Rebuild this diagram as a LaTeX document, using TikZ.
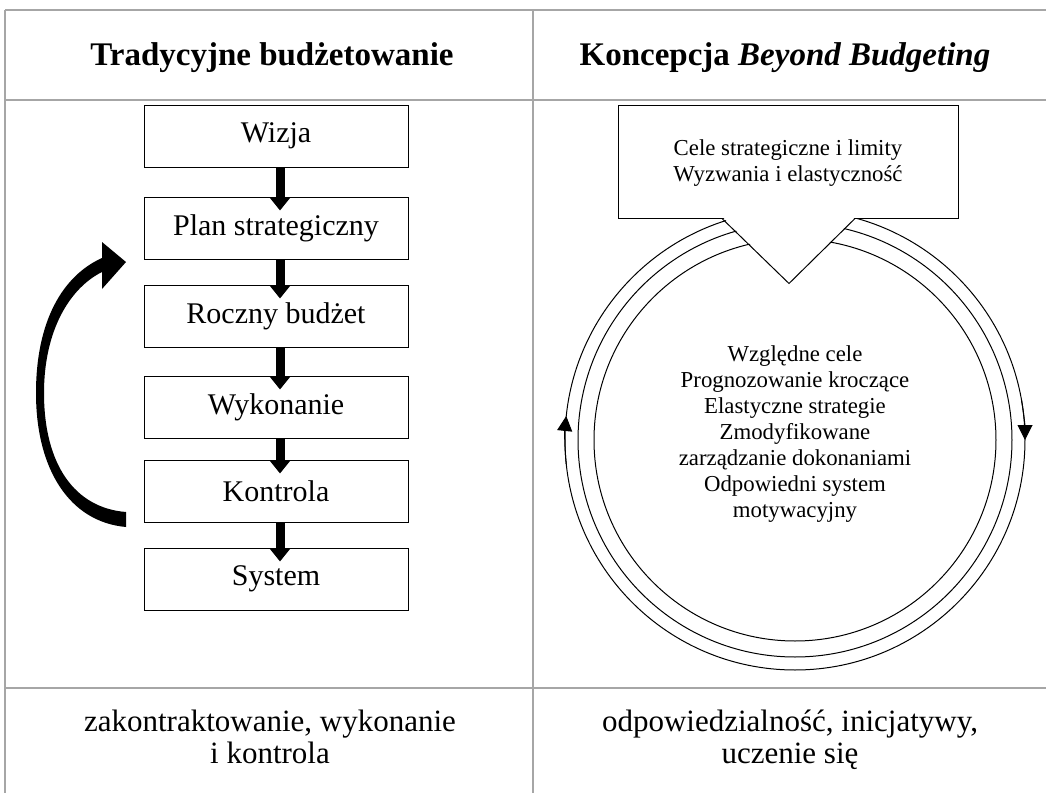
\documentclass[tikz,border=0pt]{standalone}
\usepackage{fontspec}
\setmainfont{Liberation Serif}
\usetikzlibrary{arrows.meta,calc}

\begin{document}
\begin{tikzpicture}[x=0.5pt, y=-0.5pt,
    grid/.style={draw=black!35, line width=1.2pt},
    block/.style={rectangle, draw, line width=0.5pt, fill=white, minimum height=31pt, minimum width=132pt, inner sep=1pt, align=center, font=\fontsize{15}{18}\selectfont},
    goalbox/.style={rectangle, draw, line width=0.5pt, fill=white, minimum height=56.5pt, minimum width=170pt, inner sep=1pt, align=center, font=\fontsize{11.4}{13}\selectfont},
    down/.style={-{Triangle[length=6.5pt, width=10pt]}, line width=4.5pt},
    head/.style={font=\fontsize{16.5}{20}\selectfont\bfseries},
    note/.style={align=center, font=\fontsize{15.5}{16}\selectfont},
    ring/.style={line width=0.5pt},
    ringarrow/.style={line width=0.5pt, -{Triangle[length=7.5pt, width=7.5pt]}}
]
\useasboundingbox (0,0) rectangle (1046,793);
\draw[grid] (5,10) -- (1046,10);
\draw[grid] (5,100) -- (1046,100);
\draw[grid] (5,688) -- (1046,688);
\draw[grid] (5,10) -- (5,793);
\draw[grid] (533,10) -- (533,793);

\node[head] (h1) at (272,55) {\vphantom{Ż}Tradycyjne budżetowanie};
\node[head] (h2) at (785,55) {\vphantom{Ż}Koncepcja \textit{Beyond Budgeting}};

\node[block] (wiz)  at (276,136) {Wizja};
\node[block] (plan) at (276,228) {Plan strategiczny};
\node[block] (rocz) at (276,316) {Roczny budżet};
\node[block] (wyk)  at (276,407) {Wykonanie};
\node[block] (kon)  at (276,491) {Kontrola};
\node[block] (sys)  at (276,579) {System};
\foreach \a/\b in {wiz/plan,plan/rocz,rocz/wyk,wyk/kon,kon/sys}{\draw[down] ([xshift=2pt]\a.south) -- ([xshift=2pt,yshift=-7pt]\b.north);}

\fill (126,527) .. controls (70,522) and (36,470) .. (36,393) .. controls (36,322) and (62,276) .. (102,258)
  -- (102,242) -- (126,262) -- (102,289) -- (102,272) .. controls (70,288) and (44,330) .. (44,393)
  .. controls (44,465) and (75,508) .. (126,512) -- cycle;

\coordinate (c) at (795,440);
\draw[ring] (c) circle[radius=230];
\draw[ring] (c) circle[radius=217];
\draw[ring] (c) circle[radius=201];
\draw[ringarrow] (c) ++(174:230) arc[start angle=174, end angle=186, radius=230];
\draw[ringarrow] (c) ++(-10:230) arc[start angle=-10, end angle=0, radius=230];

\node[goalbox] (cele) at (788,161.5) {\vphantom{Ć}Cele strategiczne i limity\\Wyzwania i elastyczność};
\fill[white] ($(cele.south)+(-66,-2)$) -- ($(cele.south)+(1,64)$) -- ($(cele.south)+(68,-2)$) -- cycle;
\draw[ring] ($(cele.south)+(-66,0)$) -- ($(cele.south)+(1,65)$) -- ($(cele.south)+(67,0)$);

\node[align=center, font=\fontsize{11.4}{13}\selectfont] (zasady) at (795,432) {\vphantom{Ć}Względne cele\\Prognozowanie kroczące\\Elastyczne strategie\\Zmodyfikowane\\zarządzanie dokonaniami\\Odpowiedni system\\motywacyjny};

\node[note] (f1) at (270,737) {\vphantom{Ść}zakontraktowanie, wykonanie\\i kontrola\vphantom{ę}};
\node[note] (f2) at (790,737) {\vphantom{Ść}odpowiedzialność, inicjatywy,\\uczenie się};
\end{tikzpicture}
\end{document}
